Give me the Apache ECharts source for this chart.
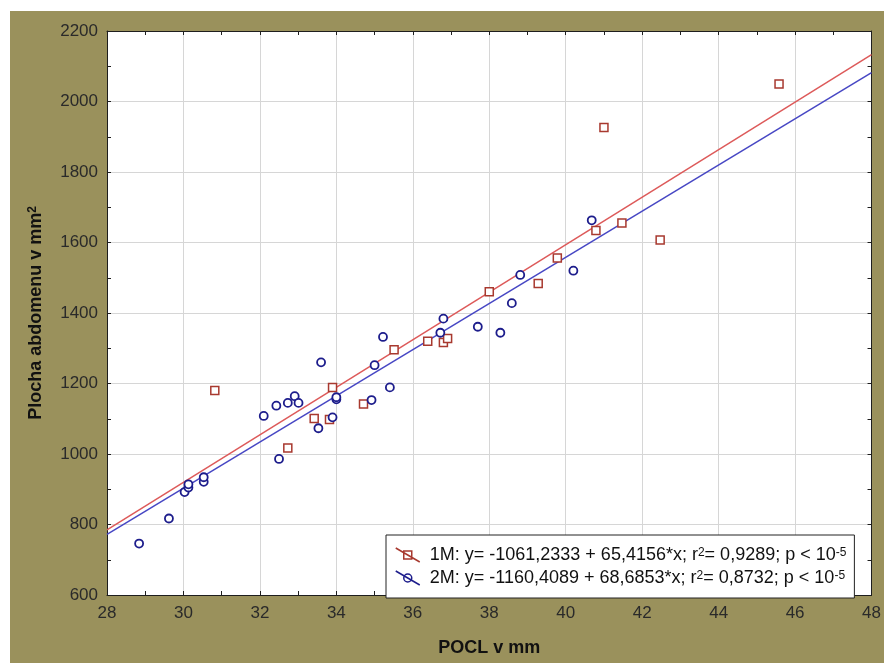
<!DOCTYPE html>
<html>
<head>
<meta charset="utf-8">
<script src="https://cdn.jsdelivr.net/npm/echarts@6.0.0/dist/echarts.min.js"></script>
<style>
  body { margin: 0; background: #fff; }
  #chart { position: absolute; left: 10px; top: 11px; width: 874px; height: 652px; }
</style>
</head>
<body>
<div id="chart"></div>
<script>
// 1M (squares)
const m1X = [30.82, 32.73, 33.42, 33.82, 33.9, 34.71, 35.51, 36.39, 36.8, 36.91, 38.0, 39.28, 39.78, 40.79, 41.0, 41.47, 42.47, 45.58];
const m1Y = [1180, 1017, 1101, 1098, 1189, 1142, 1296, 1320, 1316, 1328, 1460, 1484, 1556, 1634, 1926, 1655, 1607, 2050];
// 2M (circles)
const m2X = [28.84, 29.62, 30.03, 30.13, 30.13, 30.53, 30.53, 32.1, 32.43, 32.5, 32.73, 32.91, 33.01, 33.53, 33.6, 33.9, 34.0, 34.0, 34.92, 35.0, 35.22, 35.4, 36.72, 36.8, 37.7, 38.29, 38.59, 38.81, 40.2, 40.68];
const m2Y = [746, 817, 892, 905, 914, 921, 934, 1108, 1137, 986, 1145, 1164, 1145, 1073, 1260, 1104, 1155, 1161, 1153, 1252, 1332, 1189, 1344, 1384, 1361, 1344, 1428, 1508, 1520, 1663];
// regression lines, end points as drawn
const fitX = [28, 48];
const fit1Y = [785, 2133];
const fit2Y = [772, 2082];

const names = ["1M", "2M"];
const legendText = {
  "1M": "{gap|}1M: y= -1061,2333 + 65,4156*x; r{sup|2}= 0,9289; p < 10{sup|-5}",
  "2M": "{gap|}2M: y= -1160,4089 + 68,6853*x; r{sup|2}= 0,8732; p < 10{sup|-5}"
};

const font = "'Liberation Sans', Arial, sans-serif";
const red = "#a8392f";
const blue = "#1d1d8c";

const zip = (xs, ys) => xs.map((x, i) => [x, ys[i]]);

const tickStyle = {
  axisLine: { show: true, lineStyle: { color: "#1e1e1e", width: 1 } },
  axisTick: { show: true, inside: true, length: 4, lineStyle: { color: "#1e1e1e" } },
  minorTick: { show: true, splitNumber: 2, length: 4, lineStyle: { color: "#1e1e1e" } }
};

const option = {
  backgroundColor: "#9a915c",
  animation: false,
  grid: { left: 97, top: 20, right: 8, bottom: 68, show: true, backgroundColor: "#fff", borderWidth: 0 },
  xAxis: [
    Object.assign({
      type: "value", min: 28, max: 48, interval: 2,
      name: "POCL v mm", nameLocation: "middle", nameGap: 44,
      nameTextStyle: { fontFamily: font, fontSize: 18, fontWeight: "bold", color: "#111" },
      axisLabel: { fontFamily: font, fontSize: 17, color: "#2a2a2a", margin: 10 },
      splitLine: { show: true, lineStyle: { color: "#d6d6d6" } }
    }, tickStyle),
    Object.assign({
      type: "value", min: 28, max: 48, interval: 2, position: "top",
      axisLabel: { show: false }, splitLine: { show: false }
    }, tickStyle)
  ],
  yAxis: [
    Object.assign({
      type: "value", min: 600, max: 2200, interval: 200,
      name: "Plocha abdomenu v mm{sup|2}", nameLocation: "middle", nameGap: 62,
      nameTextStyle: {
        fontFamily: font, fontSize: 18, fontWeight: "bold", color: "#111",
        rich: { sup: { fontFamily: font, fontSize: 12, fontWeight: "bold", color: "#111", lineHeight: 10, verticalAlign: "top" } }
      },
      axisLabel: { fontFamily: font, fontSize: 17, color: "#2a2a2a", margin: 9, formatter: v => String(v) },
      splitLine: { show: true, lineStyle: { color: "#d6d6d6" } }
    }, tickStyle),
    Object.assign({
      type: "value", min: 600, max: 2200, interval: 200, position: "right",
      axisLabel: { show: false }, splitLine: { show: false }
    }, tickStyle)
  ],
  legend: {
    orient: "vertical",
    left: 376,
    top: 524,
    padding: [11, 8, 11, 9],
    itemGap: 5,
    itemWidth: 24,
    itemHeight: 14,
    backgroundColor: "#fff",
    borderColor: "#222",
    borderWidth: 1,
    data: [
      {
        name: "1M", icon: "path://M0,0 L24,14 M8,3 L16,3 L16,11 L8,11 Z",
        itemStyle: { color: "#fff", borderColor: red, borderWidth: 1.5 }
      },
      {
        name: "2M", icon: "path://M0,0 L24,14 M16,7 A4,4 0 1,1 8,7 A4,4 0 1,1 16,7 Z",
        itemStyle: { color: "#fff", borderColor: blue, borderWidth: 1.5 }
      }
    ],
    formatter: name => legendText[name],
    textStyle: {
      fontFamily: font, fontSize: 18, color: "#111", lineHeight: 16,
      rich: {
        gap: { width: 5, lineHeight: 16 },
        sup: { fontFamily: font, fontSize: 12, color: "#111", lineHeight: 8, verticalAlign: "top" }
      }
    }
  },
  series: [
    {
      name: "fit1M", type: "line", data: zip(fitX, fit1Y),
      showSymbol: false, symbol: "none", silent: true,
      lineStyle: { color: "#dd5a5a", width: 1.5 }, z: 2
    },
    {
      name: "fit2M", type: "line", data: zip(fitX, fit2Y),
      showSymbol: false, symbol: "none", silent: true,
      lineStyle: { color: "#4747c4", width: 1.5 }, z: 2
    },
    {
      name: names[0], type: "scatter", data: zip(m1X, m1Y),
      symbol: "rect", symbolSize: 8,
      itemStyle: { color: "#fff", borderColor: red, borderWidth: 1.5, opacity: 1 }, z: 3
    },
    {
      name: names[1], type: "scatter", data: zip(m2X, m2Y),
      symbol: "circle", symbolSize: 8,
      itemStyle: { color: "#fff", borderColor: blue, borderWidth: 1.8, opacity: 1 }, z: 3
    }
  ]
};

const chart = echarts.init(document.getElementById("chart"));
chart.setOption(option);
</script>
</body>
</html>
